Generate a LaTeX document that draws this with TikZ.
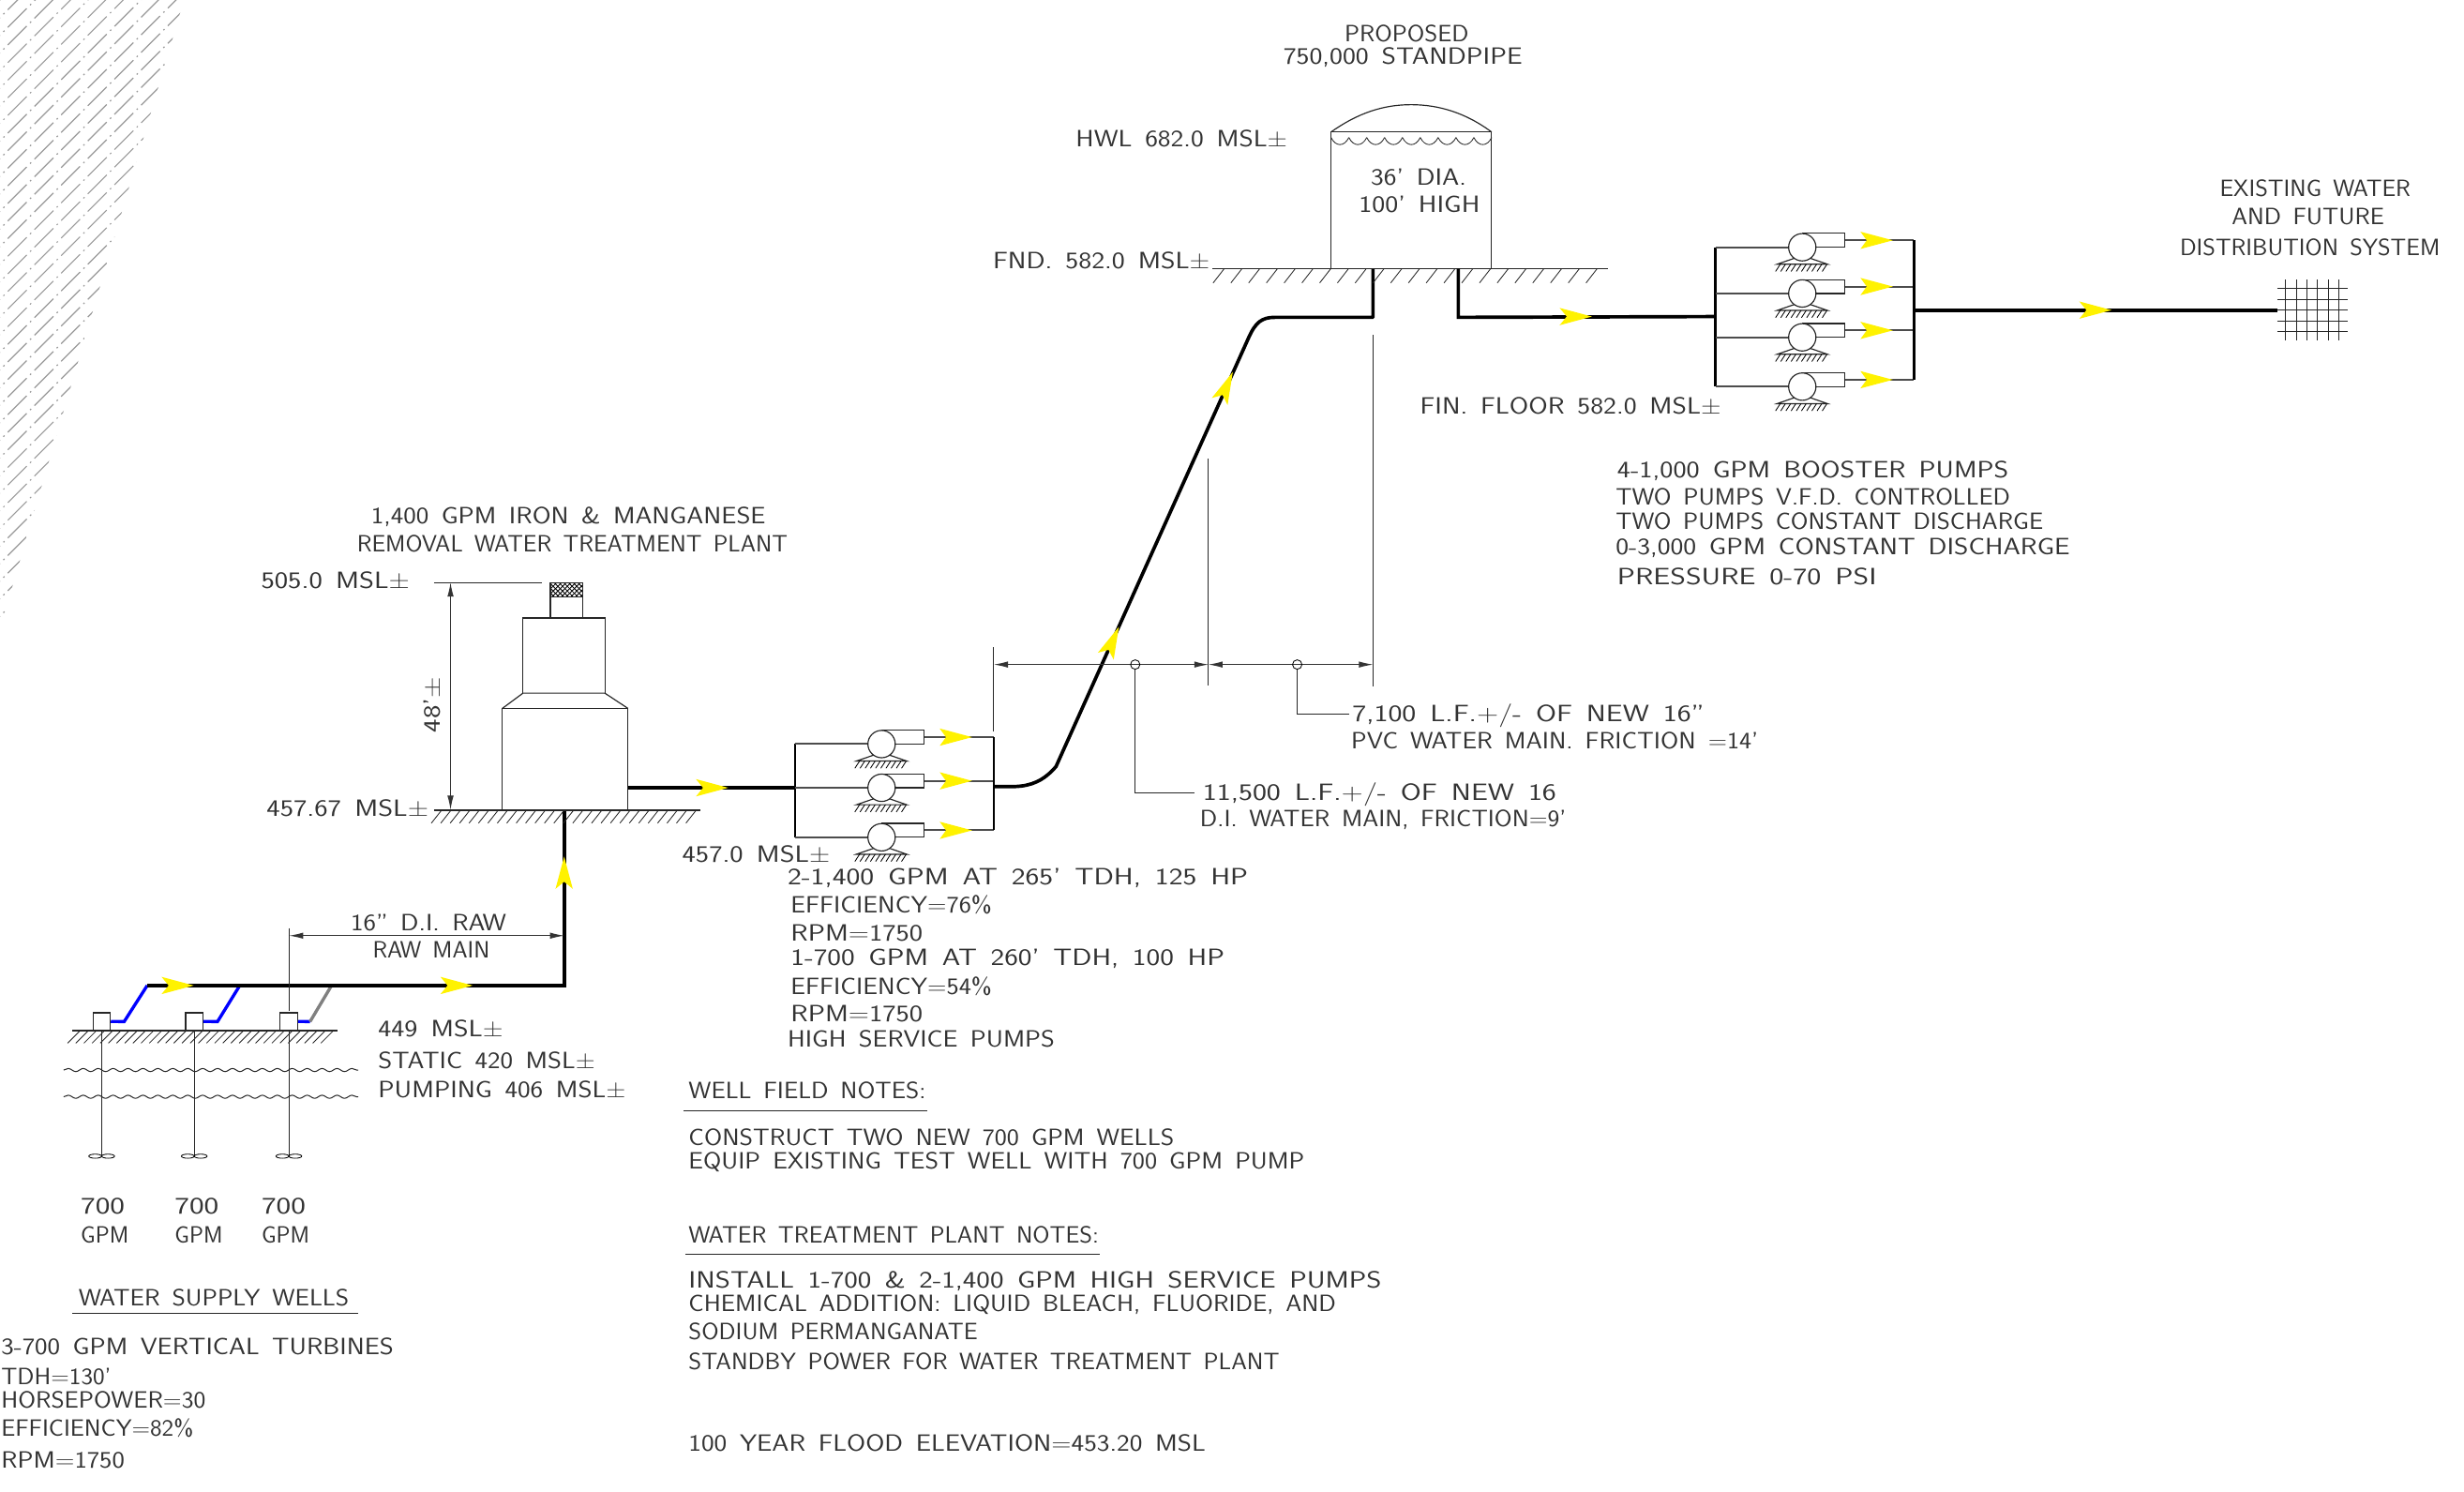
\documentclass[tikz,border=0pt]{standalone}
\usepackage{fontspec}
\usepackage{graphicx}
\setmainfont[WordSpace=1.5]{Latin Modern Sans}
\usetikzlibrary{arrows.meta,decorations.pathmorphing}
\newcommand{\fitw}[2]{\resizebox{#1pt}{\height}{#2}}
\tikzset{
  lbl/.style={font=\fontsize{15}{15}\selectfont, anchor=base west, inner sep=0pt, text=black!80},
  lblr/.style={lbl, anchor=base east},
  outline/.style={line width=0.7pt, black!85},
  pipemain/.style={line width=2.2pt, black},
  pipeside/.style={line width=1.2pt, black!70},
  manifold/.style={line width=1.5pt, black},
  dimline/.style={line width=0.6pt, black!80, {Latex[length=9pt,width=4pt]}-{Latex[length=9pt,width=4pt]}},
  extline/.style={line width=0.6pt, black!85},
  waterline/.style={line width=0.6pt, black!85, decorate, decoration={snake, segment length=9.5pt, amplitude=1pt}},
  pics/flowarrow/.style={code={
    \fill[yellow] (0,0) -- (-20.5,5.5) -- (-16,0) -- (-20.5,-5.5) -- cycle;
  }},
  pics/pumpunit/.style={code={
    \draw[outline] (0,-8.8) -- (27,-8.8) -- (27,0) -- (8,0);
    \draw[outline, fill=white] (0,0) circle (8.7);
    \draw[outline] (-5,7) -- (-16,10.8) -- (16,10.8) -- (5,7);
    \foreach \tx in {-14,-10.7,...,17} \draw[line width=0.5pt] (\tx,10.8) -- ++(-3,4.6);
    \fill[yellow] (57.6,-4.4) -- (37,1.1) -- (41,-4.4) -- (37,-9.9) -- cycle;
  }}
}
% ground line with slanted ticks: y, x from, x to, first tick, next tick, last tick, slant, depth
\newcommand{\groundline}[8]{
  \draw[outline] (#2,#1) -- (#3,#1);
  \foreach \tx in {#4,#5,...,#6} \draw[line width=0.5pt, black!85] (\tx,#1) -- ++(-#7,#8);
}
\begin{document}
\begin{tikzpicture}[x=1pt,y=-1pt]
    \useasboundingbox (0,0) rectangle (1568,948.7);

    % Hatched corner
    \begin{scope}
      \clip (0,0) -- (117,0) -- (0,400) -- cycle;
      \foreach \hc in {0,11.2,...,530}
        \draw[line width=0.7pt, black!40, dash pattern=on 17pt off 3pt on 1pt off 3pt] (-12,\hc+12) -- (\hc+12,-12);
    \end{scope}

    % Pipe joints
    \coordinate (mainstart) at (93.7,627);
    \coordinate (maincorner) at (359,627);
    \coordinate (plantin) at (359,515.5);
    \coordinate (plantout) at (399.6,501.2);
    \coordinate (suctionA) at (506,501.2);
    \coordinate (dischargeA) at (632.4,500.4);
    \coordinate (riserlow) at (672,487.7);
    \coordinate (riserhigh) at (794.6,214.8);
    \coordinate (tankin) at (873.7,171);
    \coordinate (tankout) at (928,171);
    \coordinate (suctionB) at (1091.7,201.4);
    \coordinate (dischargeB) at (1217.9,197.3);
    \coordinate (gridin) at (1449.2,197.3);

    % Water supply wells
    \groundline{655.7}{46}{215}{51}{56.2}{216}{8}{8}
    \draw[waterline] (40.5,680.8) -- (228,680.8);
    \draw[waterline] (40.5,697.8) -- (228,697.8);
    \foreach \wx/\wn in {64.7/A,123.6/B,183.8/C} {
      \node[draw, line width=0.7pt, black!85, minimum width=11pt, minimum height=11pt, inner sep=0pt, anchor=south] (well\wn) at (\wx,655.7) {};
      \draw[extline] (\wx,655.7) -- (\wx,735.6);
      \draw[line width=0.5pt] (\wx-4.1,735.6) ellipse (4.1 and 1.3);
      \draw[line width=0.5pt] (\wx+4.1,735.6) ellipse (4.1 and 1.3);
    }
    \draw[line width=2pt, blue] (wellA.east) -- (79,650) -- (mainstart);
    \draw[line width=2pt, blue] (wellB.east) -- (138.4,650) -- (152.6,627);
    \draw[line width=2pt, blue] (wellC.east) -- (197.3,650);
    \draw[line width=2pt, black!50] (197.3,650) -- (211,627);
    \draw[pipemain] (mainstart) -- (maincorner) -- (plantin);
    \pic at (123.3,627) {flowarrow};
    \pic at (300.8,627) {flowarrow};
    \pic[rotate=90] at (359,545) {flowarrow};
    \draw[extline] (184,590.4) -- (184,643);
    \draw[dimline] (184,595.3) -- (359,595.3);
    \node[lbl] (rawA) at (223,592.4) {\fitw{99}{16” D.I. RAW}};
    \node[lbl] (rawB) at (237,609.4) {\fitw{74.5}{RAW MAIN}};
    \node[lbl] (levelA) at (240.5,659.8) {\fitw{79.5}{449 MSL±}};
    \node[lbl] (levelB) at (240.5,680) {\fitw{138}{STATIC 420 MSL±}};
    \node[lbl] (levelC) at (240.5,698.3) {\fitw{157.5}{PUMPING 406 MSL±}};
    \foreach \gx/\gn in {51.2/A,111/B,166.3/C} {
      \node[lbl] (rate\gn) at (\gx,772.6) {\fitw{28}{700}};
      \node[lbl] (unit\gn) at (\gx,790.9) {\fitw{30.5}{GPM}};
    }
    \node[lbl] (wellsTitle) at (49.9,831) {\fitw{172}{WATER SUPPLY WELLS}};
    \draw[extline] (46,835.4) -- (227.7,835.4);
    \node[lblr] (wellsA) at (250.7,862) {\fitw{249.7}{3-700 GPM VERTICAL TURBINES}};
    \node[lblr] (wellsB) at (71,881) {\fitw{70}{TDH=130’}};
    \node[lblr] (wellsC) at (131,895.6) {\fitw{130}{HORSEPOWER=30}};
    \node[lblr] (wellsD) at (123.3,913.9) {\fitw{122.3}{EFFICIENCY=82\%}};
    \node[lblr] (wellsE) at (79.5,934) {\fitw{78.5}{RPM=1750}};

    % Treatment plant
    \groundline{515.5}{276.2}{445.4}{281}{287}{446}{6.5}{8.2}
    \draw[outline] (319.7,515.5) -- (319.7,450.7) -- (399.6,450.7) -- (399.6,515.5);
    \draw[outline] (319.7,450.7) -- (332.8,441) -- (384.9,441) -- (399.6,450.7);
    \draw[outline] (332.8,441) -- (332.8,393.2) -- (384.9,393.2) -- (384.9,441);
    \draw[outline] (350.2,393.2) -- (350.2,370.8) -- (371,370.8) -- (371,393.2);
    \begin{scope}
      \clip (350.2,370.8) rectangle (371,379.9);
      \foreach \cx in {340,343,...,385} {
        \draw[line width=0.5pt] (\cx,370) -- ++(11,11);
        \draw[line width=0.5pt] (\cx,370) -- ++(-11,11);
      }
    \end{scope}
    \draw[outline] (350.2,370.8) rectangle (371,379.9);
    \draw[extline] (276.2,370.6) -- (345,370.6);
    \draw[dimline] (286.7,370.6) -- (286.7,515.2);
    \node[lbl, rotate=90] (plantHeight) at (280,466.4) {\fitw{35.4}{48’±}};
    \node[lbl] (plantA) at (236,333.2) {\fitw{251}{1,400 GPM IRON \& MANGANESE}};
    \node[lbl] (plantB) at (227,351) {\fitw{274}{REMOVAL WATER TREATMENT PLANT}};
    \node[lbl] (plantTop) at (166,374.3) {\fitw{94.5}{505.0 MSL±}};
    \node[lbl] (plantBase) at (169.5,519.5) {\fitw{103}{457.67 MSL±}};

    % High service pumps
    \draw[pipemain] (plantout) -- (suctionA);
    \pic at (463.4,501.2) {flowarrow};
    \draw[manifold] (506,473.4) -- (506,532.7);
    \foreach \py in {473.4,501.2,532.7} {
      \draw[pipeside] (506,\py) -- (561,\py);
      \draw[pipeside] (588,\py-4.4) -- (632.4,\py-4.4);
      \pic at (561,\py) {pumpunit};
    }
    \draw[manifold] (632.4,469) -- (632.4,528.3);
    \node[lbl] (pumpBase) at (434,548.4) {\fitw{94}{457.0 MSL±}};
    \node[lbl] (hsA) at (501,563) {\fitw{293}{2-1,400 GPM AT 265’ TDH, 125 HP}};
    \node[lbl] (hsB) at (503,581) {\fitw{128}{EFFICIENCY=76\%}};
    \node[lbl] (hsC) at (503,599) {\fitw{84}{RPM=1750}};
    \node[lbl] (hsD) at (503,614) {\fitw{276}{1-700 GPM AT 260’ TDH, 100 HP}};
    \node[lbl] (hsE) at (503,632.5) {\fitw{128}{EFFICIENCY=54\%}};
    \node[lbl] (hsF) at (503,650) {\fitw{84}{RPM=1750}};
    \node[lbl] (hsG) at (501,666) {\fitw{170}{HIGH SERVICE PUMPS}};

    % Transmission main
    \draw[pipemain, line join=round] (dischargeA) -- (646,500.4) .. controls (656,500) and (664,497) .. (riserlow)
      -- (riserhigh) .. controls (799,205) and (803,201.9) .. (811.3,201.9) -- (873.7,201.9) -- (tankin);
    \pic[rotate=66] at (712,398.8) {flowarrow};
    \pic[rotate=66] at (784.5,236.7) {flowarrow};
    \draw[extline] (632.4,411.7) -- (632.4,465.5);
    \draw[extline] (769,292) -- (769,436);
    \draw[extline] (873.7,213.2) -- (873.7,437);
    \draw[dimline] (632.4,422.8) -- (769,422.8);
    \draw[dimline] (769,422.8) -- (873.7,422.8);
    \node[draw, circle, line width=0.5pt, minimum size=6pt, inner sep=0pt] (tagA) at (722.4,422.8) {};
    \node[draw, circle, line width=0.5pt, minimum size=6pt, inner sep=0pt] (tagB) at (825.5,422.8) {};
    \draw[extline] (tagA.south) -- (722.4,504.4) -- (760.4,504.4);
    \draw[extline] (tagB.south) -- (825.5,454.5) -- (858.7,454.5);
    \node[lbl] (pvcA) at (860.4,459.4) {\fitw{224}{7,100 L.F.+/- OF NEW 16”}};
    \node[lbl] (pvcB) at (859.7,476.7) {\fitw{259}{PVC WATER MAIN. FRICTION =14’}};
    \node[lbl] (diA) at (765.2,509.2) {\fitw{225}{11,500 L.F.+/- OF NEW 16}};
    \node[lbl] (diB) at (763.5,526) {\fitw{233}{D.I. WATER MAIN, FRICTION=9’}};

    % Standpipe
    \groundline{171}{771.7}{1023.5}{779}{790.3}{1020}{7}{9}
    \draw[outline] (847,171) -- (847,84) -- (949.2,84) -- (949.2,171);
    \draw[outline] (847,84) .. controls (864,72) and (880,66.6) .. (898,66.6) .. controls (916,66.6) and (933,72) .. (949.2,84);
    \foreach \sx in {847,858.36,...,938} \draw[line width=0.5pt, black!85] (\sx,87.5) .. controls (\sx+3,93.5) and (\sx+8.4,93.5) .. (\sx+11.36,87.5);
    \node[lbl] (tankTitleA) at (855.4,26.3) {\fitw{79}{PROPOSED}};
    \node[lbl] (tankTitleB) at (816.5,40.8) {\fitw{152}{750,000 STANDPIPE}};
    \node[lbl] (tankHwl) at (684.4,93.5) {\fitw{134.6}{HWL 682.0 MSL±}};
    \node[lbl] (tankDia) at (872.2,117.7) {\fitw{60.8}{36’ DIA.}};
    \node[lbl] (tankHigh) at (864.6,135.2) {\fitw{77}{100’ HIGH}};
    \node[lbl] (tankFnd) at (631.7,171) {\fitw{138}{FND. 582.0 MSL±}};
    \node[lbl] (finFloor) at (903.5,263.5) {\fitw{191.5}{FIN. FLOOR 582.0 MSL±}};

    % Booster pumps
    \draw[pipemain] (tankout) -- (928,201.9) -- (suctionB);
    \pic at (1013,201.4) {flowarrow};
    \draw[manifold] (1091.7,157.3) -- (1091.7,246);
    \foreach \by in {157.3,186.7,214.6,246} {
      \draw[pipeside] (1091.7,\by) -- (1147,\by);
      \draw[pipeside] (1173.3,\by-4.4) -- (1217.9,\by-4.4);
      \pic at (1146.9,\by) {pumpunit};
    }
    \draw[manifold] (1217.9,152.9) -- (1217.9,241.8);
    \node[lbl] (boostA) at (1029,303.9) {\fitw{249}{4-1,000 GPM BOOSTER PUMPS}};
    \node[lbl] (boostB) at (1028,321.2) {\fitw{251}{TWO PUMPS V.F.D. CONTROLLED}};
    \node[lbl] (boostC) at (1028,337) {\fitw{272}{TWO PUMPS CONSTANT DISCHARGE}};
    \node[lbl] (boostD) at (1028,353) {\fitw{289}{0-3,000 GPM CONSTANT DISCHARGE}};
    \node[lbl] (boostE) at (1029,371.9) {\fitw{165}{PRESSURE 0-70 PSI}};

    % Distribution system
    \draw[pipemain] (dischargeB) -- (gridin);
    \pic at (1343.7,197.3) {flowarrow};
    \foreach \gy in {183.5,190.5,197.3,204.2,210.8} \draw[extline] (1449.2,\gy) -- (1493.8,\gy);
    \foreach \gx in {1454.4,1461.2,1468,1474.8,1481.5,1488.6} \draw[extline] (\gx,178) -- (\gx,216.4);
    \node[lbl] (distA) at (1412.4,124.9) {\fitw{121.4}{EXISTING WATER}};
    \node[lbl] (distB) at (1420,142.8) {\fitw{97}{AND FUTURE}};
    \node[lbl] (distC) at (1387,162.7) {\fitw{165.5}{DISTRIBUTION SYSTEM}};

    % Notes
    \node[lbl] (fieldTitle) at (438,699) {\fitw{151}{WELL FIELD NOTES:}};
    \draw[extline] (435,707) -- (590,707);
    \node[lbl] (fieldA) at (438,729) {\fitw{309}{CONSTRUCT TWO NEW 700 GPM WELLS}};
    \node[lbl] (fieldB) at (438,743.5) {\fitw{392}{EQUIP EXISTING TEST WELL WITH 700 GPM PUMP}};
    \node[lbl] (notesTitle) at (438,791) {\fitw{261}{WATER TREATMENT PLANT NOTES:}};
    \draw[extline] (436,798) -- (700,798);
    \node[lbl] (notesA) at (438,819.5) {\fitw{441}{INSTALL 1-700 \& 2-1,400 GPM HIGH SERVICE PUMPS}};
    \node[lbl] (notesB) at (438,834.5) {\fitw{412}{CHEMICAL ADDITION: LIQUID BLEACH, FLUORIDE, AND}};
    \node[lbl] (notesC) at (438,852.5) {\fitw{184}{SODIUM PERMANGANATE}};
    \node[lbl] (notesD) at (438,871.5) {\fitw{376}{STANDBY POWER FOR WATER TREATMENT PLANT}};
    \node[lbl] (notesE) at (438,923.5) {\fitw{329}{100 YEAR FLOOD ELEVATION=453.20 MSL}};
\end{tikzpicture}
\end{document}
